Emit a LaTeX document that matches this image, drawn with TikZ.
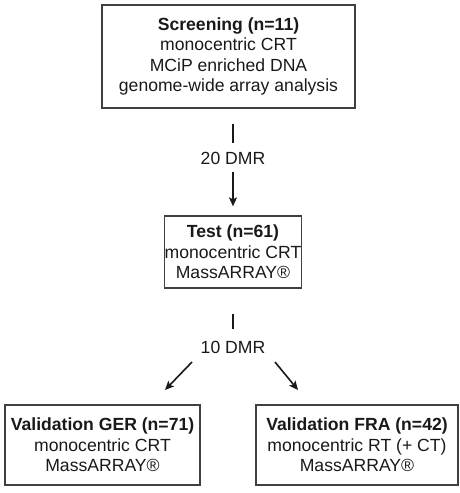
\documentclass[tikz,border=0pt]{standalone}
\usepackage{fontspec}
\setmainfont{Liberation Sans}
\usetikzlibrary{arrows.meta}
\begin{document}
\begin{tikzpicture}[x=1pt,y=-1pt,
  boxnode/.style={draw=black!75, line width=1.3pt, align=center, inner sep=0pt,
    font=\fontsize{17.6}{20.5}\selectfont, text=black!90},
  lbl/.style={font=\fontsize{17.6}{20.5}\selectfont, text=black!90, inner sep=0pt},
  conn/.style={line width=1.6pt, black!90},
  arr/.style={conn, -{Stealth[length=9pt,width=8pt,inset=2pt]}}]
\useasboundingbox (0,0) rectangle (460,493);
\node[boxnode, minimum width=253pt, minimum height=103pt] (scr) at (228.5,56.5)
  {\textbf{Screening (n=11)}\\monocentric CRT\\MCiP enriched DNA\\genome-wide array analysis};
\node[boxnode, minimum width=130pt, minimum height=72pt] (test) at (233,252)
  {\textbf{Test (n=61)}\\monocentric CRT\\MassARRAY®};
\node[boxnode, minimum width=195pt, minimum height=80pt] (ger) at (102.5,445)
  {\textbf{Validation GER (n=71)}\\monocentric CRT\\MassARRAY®};
\node[boxnode, minimum width=202pt, minimum height=80pt] (fra) at (357,445)
  {\textbf{Validation FRA (n=42)}\\monocentric RT (+ CT)\\MassARRAY®};
\node[lbl] (d20) at (233,158) {20 DMR};
\node[lbl] (d10) at (233,347) {10 DMR};
\draw[conn, shorten <=15pt, shorten >=9pt] (d20 |- scr.south) -- (d20.north);
\draw[arr, shorten <=8pt, shorten >=9pt] (d20.south) -- (test.north);
\draw[conn, shorten <=25pt, shorten >=12pt] (d10 |- test.south) -- (d10.north);
\coordinate (l1) at (192,362);
\coordinate (l2) at (165,390);
\coordinate (r1) at (275,362);
\coordinate (r2) at (298,390);
\draw[arr] (l1) -- (l2);
\draw[arr] (r1) -- (r2);
\end{tikzpicture}
\end{document}
